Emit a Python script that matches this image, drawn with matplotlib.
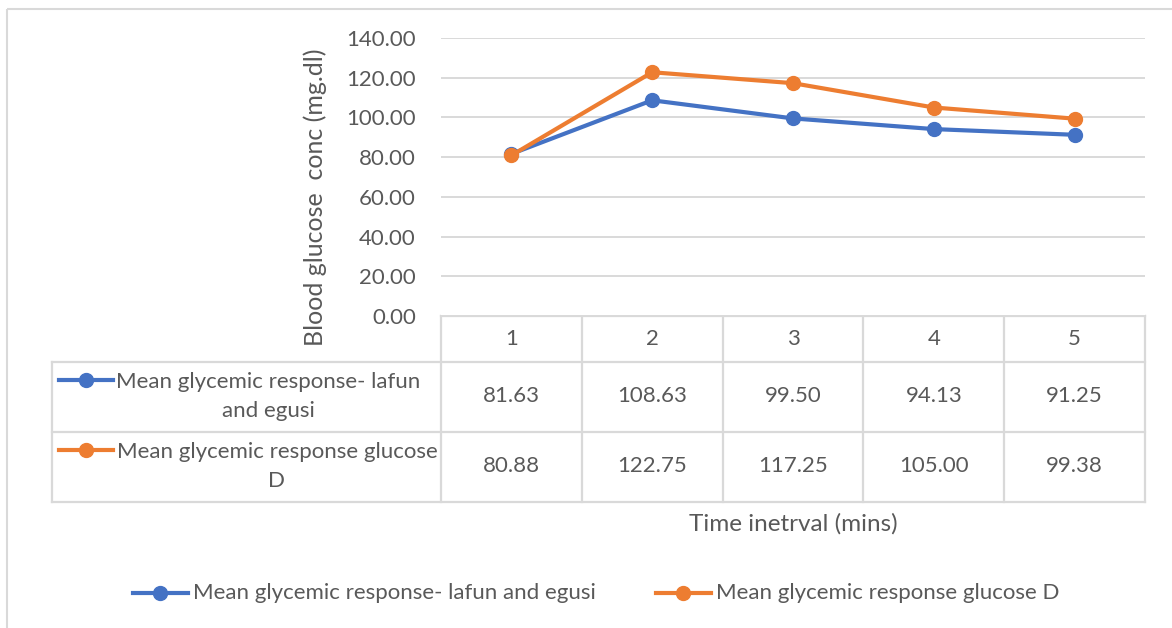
import matplotlib.pyplot as plt
from matplotlib.lines import Line2D

# data
time_points = [1, 2, 3, 4, 5]
lafun_egusi = [81.63, 108.63, 99.50, 94.13, 91.25]
glucose_d = [80.88, 122.75, 117.25, 105.00, 99.38]
series_names = ['Mean glycemic response- lafun and egusi', 'Mean glycemic response glucose D']
row_labels = ['Mean glycemic response- lafun\nand egusi', 'Mean glycemic response glucose\nD']
y_ticks = [0, 20, 40, 60, 80, 100, 120, 140]

BLUE = '#4472C4'
ORANGE = '#ED7D31'
TXT = '#595959'
GRID = '#D9D9D9'
FS = 16

plt.rcParams['font.family'] = ['Lato', 'DejaVu Sans']
W, H = 1172, 628
fig = plt.figure(figsize=(W / 100, H / 100), dpi=100)

# pixel layout
px_left, px_right, px_top, px_bottom = 441, 1145, 38, 316
ax = fig.add_axes([px_left / W, 1 - px_bottom / H, (px_right - px_left) / W, (px_bottom - px_top) / H])
ax.set_xlim(0.5, 5.5)
ax.set_ylim(0, 140)
ax.set_yticks(y_ticks)
ax.set_yticklabels(['%.2f' % v for v in y_ticks], color=TXT, fontsize=FS)
ax.tick_params(axis='y', length=0, pad=18)
ax.set_xticks([])
for s in ax.spines.values():
    s.set_visible(False)
ax.grid(axis='y', color=GRID, linewidth=1.4)
ax.set_axisbelow(True)

colors = [BLUE, ORANGE]
for vals, c in zip([lafun_egusi, glucose_d], colors):
    ax.plot(time_points, vals, color=c, linewidth=3, marker='o', markersize=10, zorder=3, clip_on=False)

# overlay in pixel coordinates for data table, axis titles and legend
ov = fig.add_axes([0, 0, 1, 1], zorder=-1)
ov.set_xlim(0, W)
ov.set_ylim(H, 0)
ov.axis('off')

# chart border
ov.add_patch(plt.Rectangle((7, 9), 1200, 640, fill=False, edgecolor=GRID, linewidth=1.5))

ov.text(315, 197, 'Blood glucose  conc (mg.dl)', rotation=90, ha='center', va='center',
        color=TXT, fontsize=18)

col_w = (px_right - px_left) / len(time_points)
bounds = [px_left + i * col_w for i in range(len(time_points) + 1)]
rows_y = [316, 361.5, 431.5, 501.5]
lab_left = 52
lw = 1.6
ov.plot([px_left, px_right], [rows_y[0]] * 2, color=GRID, lw=lw)
for y in rows_y[1:]:
    ov.plot([lab_left, px_right], [y, y], color=GRID, lw=lw)
for x in bounds:
    ov.plot([x, x], [rows_y[0], rows_y[-1]], color=GRID, lw=lw)
ov.plot([lab_left, lab_left], [rows_y[1], rows_y[-1]], color=GRID, lw=lw)

for i, t in enumerate(time_points):
    cx = (bounds[i] + bounds[i + 1]) / 2
    ov.text(cx, (rows_y[0] + rows_y[1]) / 2, str(t), ha='center', va='center', color=TXT, fontsize=FS)
    for r, vals in enumerate([lafun_egusi, glucose_d]):
        ov.text(cx, (rows_y[r + 1] + rows_y[r + 2]) / 2, '%.2f' % vals[i],
                ha='center', va='center', color=TXT, fontsize=FS)

for r, (lab, c, lx) in enumerate(zip(row_labels, colors, [268, 277])):
    cy = (rows_y[r + 1] + rows_y[r + 2]) / 2
    ov.text(lx, cy, lab, ha='center', va='center', color=TXT, fontsize=FS, linespacing=1.55)
    ky = cy - 17
    ov.add_line(Line2D([59, 113], [ky, ky], color=c, lw=3))
    ov.plot(86, ky, 'o', color=c, markersize=10)

ov.text((px_left + px_right) / 2, 524, 'Time inetrval (mins)', ha='center', va='center',
        color=TXT, fontsize=17.5)

# legend
for (mx, tx), name, c in zip([(160, 193), (683, 716)], series_names, colors):
    ov.add_line(Line2D([mx - 27, mx + 28], [593, 593], color=c, lw=3))
    ov.plot(mx, 593, 'o', color=c, markersize=10)
    ov.text(tx, 593, name, ha='left', va='center', color=TXT, fontsize=FS)

fig.savefig('out.png', dpi=100, facecolor='white')
